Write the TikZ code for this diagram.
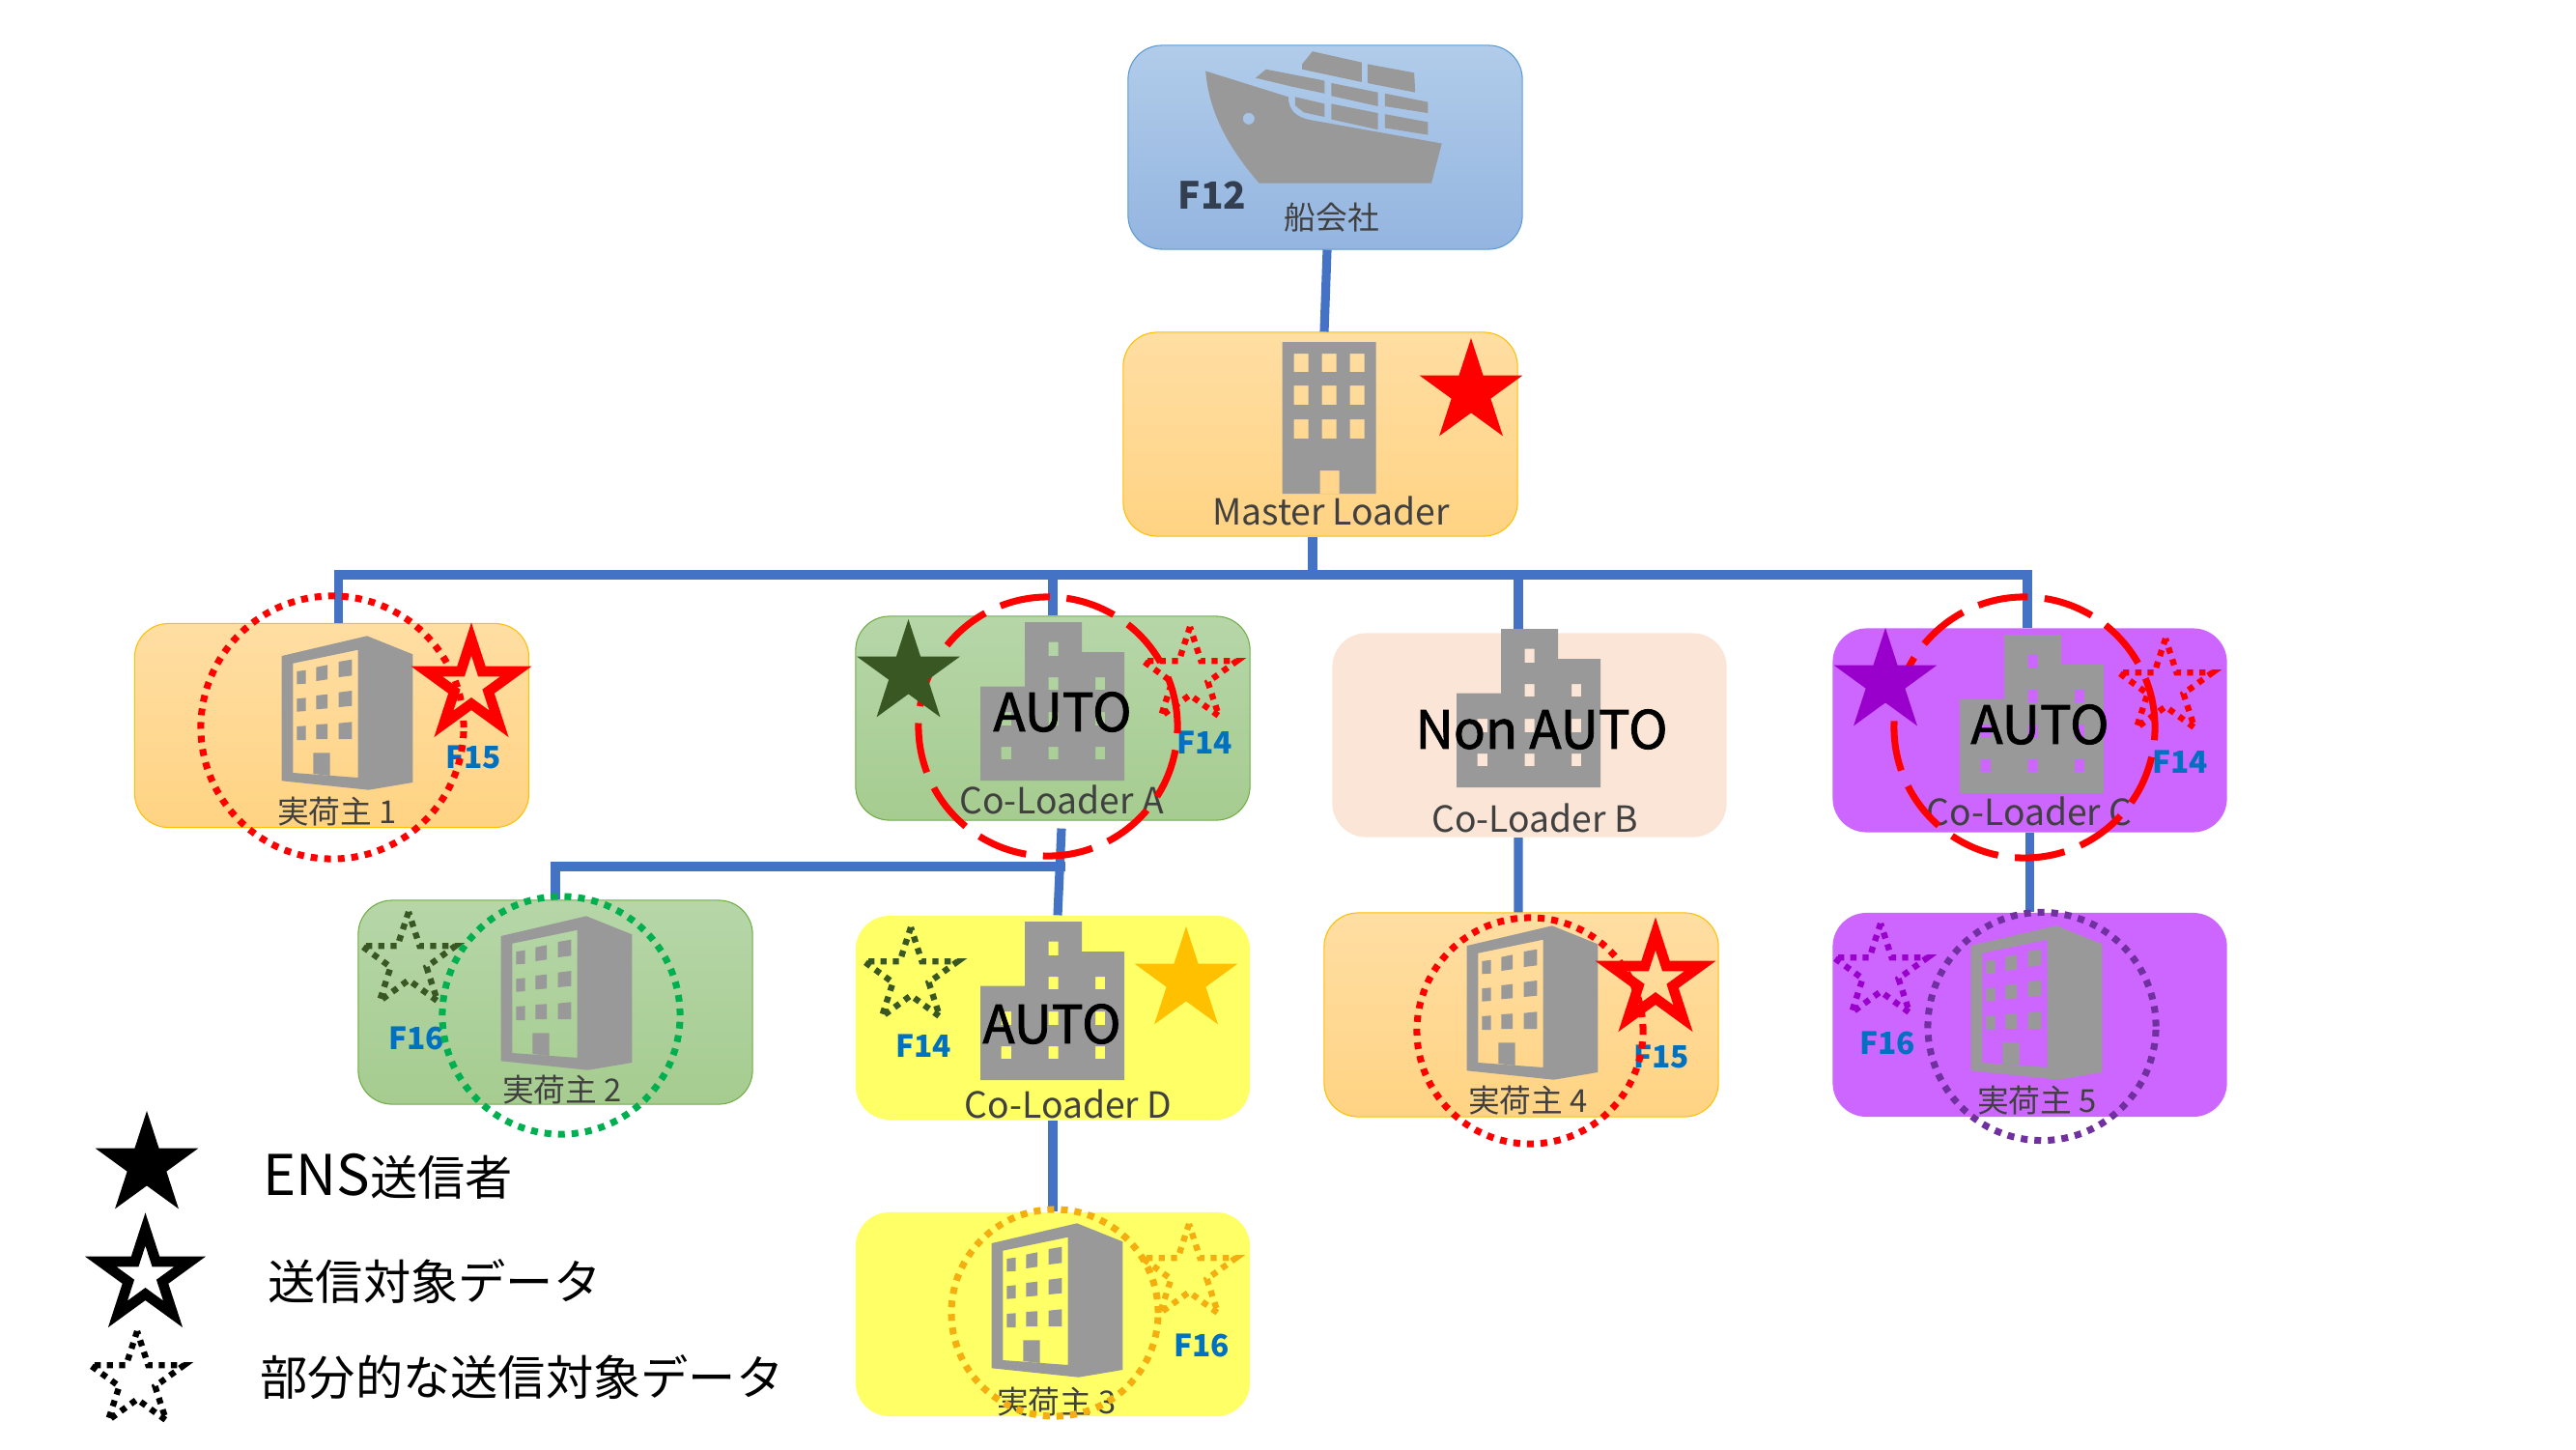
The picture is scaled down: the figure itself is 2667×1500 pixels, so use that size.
\documentclass[tikz,border=0pt]{standalone}
\usepackage{fontspec}
\setmainfont{Noto Sans CJK JP}
\usetikzlibrary{shapes.geometric}
\definecolor{linkblue}{HTML}{4472C4}
\definecolor{icongrey}{HTML}{999999}
\definecolor{fblue}{HTML}{0070C0}
\definecolor{darkgreen}{HTML}{385723}
\definecolor{violet}{HTML}{9900CC}
\definecolor{ringgreen}{HTML}{00B050}
\definecolor{ringorange}{HTML}{F4AE10}
\definecolor{ringpurple}{HTML}{7030A0}
\definecolor{amber}{HTML}{FFC000}
\definecolor{blueedge}{HTML}{5B9BD5}
\definecolor{bluetop}{HTML}{B1CCEA}
\definecolor{bluebot}{HTML}{94B5E0}
\definecolor{orangetop}{HTML}{FFDEA3}
\definecolor{orangebot}{HTML}{FFD383}
\definecolor{greenedge}{HTML}{70AD47}
\definecolor{greentop}{HTML}{B6D6A8}
\definecolor{greenbot}{HTML}{A6CC90}
\definecolor{paleyellow}{HTML}{FFFF66}
\definecolor{peach}{HTML}{FBE5D6}
\definecolor{lilac}{HTML}{CC66FF}
\definecolor{slate}{HTML}{333F50}
\tikzset{
  boxbase/.style={minimum width=4.08cm,minimum height=2.11cm,rounded corners=0.35cm,inner sep=0pt,line width=0.3pt},
  boxblue/.style={boxbase,draw=blueedge,top color=bluetop,bottom color=bluebot},
  boxorange/.style={boxbase,draw=amber,top color=orangetop,bottom color=orangebot},
  boxgreen/.style={boxbase,draw=greenedge,top color=greentop,bottom color=greenbot},
  boxyellow/.style={boxbase,fill=paleyellow},
  boxpeach/.style={boxbase,fill=peach},
  boxpurple/.style={boxbase,fill=lilac},
  link/.style={draw=linkblue,line width=2.6pt},
  name text/.style={text=black!75,font=\fontsize{9.3}{11}\selectfont,inner sep=0pt},
  loader text/.style={text=black!75,font=\fontsize{10.6}{12}\selectfont,inner sep=0pt},
  ftext/.style={text=fblue,font=\fontsize{9}{11}\selectfont\bfseries,inner sep=0pt},
  autotext/.style={text=black,font=\fontsize{15.5}{18}\selectfont\addfontfeature{FakeBold=1.5},inner sep=0pt},
  legendtext/.style={text=black,font=\fontsize{14}{17}\selectfont,inner sep=0pt,anchor=west},
  solidstar/.style={star,star points=5,star point ratio=2.618,inner sep=0pt,outer sep=0pt,minimum size=1.12cm,fill=#1},
  hollowstar/.style={star,star points=5,star point ratio=2.618,inner sep=0pt,outer sep=0pt,minimum size=0.97cm,draw=#1,line width=3pt},
  partstar/.style={star,star points=5,star point ratio=2.618,inner sep=0pt,outer sep=0pt,minimum size=1.02cm,draw=#1,line width=1.8pt,dash pattern=on 1.8pt off 1.8pt},
  dotring/.style={circle,inner sep=0pt,draw=#1,line width=2pt,dash pattern=on 2pt off 2pt},
  dashring/.style={circle,inner sep=0pt,draw=red,line width=2pt,dash pattern=on 14.8pt off 5pt},
  cargoship/.pic={
    \fill[icongrey,even odd rule] (415,150) -- (655,225) .. controls (655,265) and (680,285) .. (720,292) -- (1100,360) -- (1070,475) -- (570,475) .. controls (480,370) and (425,270) .. (415,150) -- cycle (540,288) circle (17);
    \fill[icongrey] (695,130) -- (725,93) -- (868,125) -- (868,182) -- (695,145) -- cycle;
    \fill[icongrey] (885,130) -- (1020,155) -- (1023,212) -- (885,185) -- cycle;
    \fill[icongrey] (560,170) -- (590,145) -- (760,178) -- (760,215) -- (665,195) -- cycle;
    \fill[icongrey] (780,185) -- (915,212) -- (915,252) -- (780,222) -- cycle;
    \fill[icongrey] (935,215) -- (1060,240) -- (1060,272) -- (935,252) -- cycle;
    \fill[icongrey] (675,225) -- (760,245) -- (760,283) -- (700,270) -- (675,250) -- cycle;
    \fill[icongrey] (780,245) -- (915,272) -- (915,320) -- (780,290) -- cycle;
    \fill[icongrey] (935,275) -- (1060,298) -- (1060,335) -- (935,315) -- cycle;
  },
  towerbld/.pic={
    \fill[icongrey,even odd rule] (0,0) rectangle (97,157)
      (12,12) rectangle (27,31) (41,12) rectangle (56,31) (70,12) rectangle (85,31)
      (12,45) rectangle (27,65) (41,45) rectangle (56,65) (70,45) rectangle (85,65)
      (12,80) rectangle (27,100) (41,80) rectangle (56,100) (70,80) rectangle (85,100)
      (39,133) rectangle (59,157);
  },
  flatbld/.pic={
    \fill[icongrey,even odd rule] (0.7,21) -- (89,0.3) -- (136.3,19.3) -- (136.3,152) -- (90.7,159.7) -- (0.7,150.3) -- cycle
      (12.3,28.7) -- (79.7,14.7) -- (79.7,147) -- (12.3,142) -- cycle;
    \fill[icongrey] (33.3,121.3) -- (50.7,121.3) -- (50.7,145) -- (33.3,143) -- cycle;
    \fill[icongrey] (16.3,37) -- (25.7,35.7) -- (25.7,49.7) -- (16.3,50.3) -- cycle;
    \fill[icongrey] (36.3,32.7) -- (48,30.3) -- (48,45.3) -- (36.3,47) -- cycle;
    \fill[icongrey] (59.7,27) -- (73.3,24.7) -- (73.3,41.3) -- (59.7,43) -- cycle;
    \fill[icongrey] (16.3,65.3) -- (25.7,64.3) -- (25.7,78) -- (16.3,78.7) -- cycle;
    \fill[icongrey] (36.3,62) -- (48,60.7) -- (48,75.3) -- (36.3,76.3) -- cycle;
    \fill[icongrey] (59.7,58.7) -- (73.3,57) -- (73.3,72.7) -- (59.7,74) -- cycle;
    \fill[icongrey] (16.3,94) -- (25.7,93.3) -- (25.7,108) -- (16.3,108) -- cycle;
    \fill[icongrey] (36.3,92) -- (48,91.3) -- (48,107) -- (36.3,107) -- cycle;
    \fill[icongrey] (59.7,90.7) -- (73.3,89.3) -- (73.3,107) -- (59.7,107) -- cycle;
  },
  blockbld/.pic={
    \fill[icongrey,even odd rule] (0,66.5) -- (46,66.5) -- (46,0) -- (105,0) -- (105,31) -- (149,31) -- (149,164) -- (0,164) -- cycle
      (70.6,20.6) rectangle (80.5,35)
      (70.6,57) rectangle (80.5,70) (119,57) rectangle (129,70)
      (21.6,93) rectangle (32,107) (70.6,93) rectangle (80.5,107) (119,93) rectangle (129,107)
      (21.6,129) rectangle (32,142) (70.6,129) rectangle (80.5,142) (119,129) rectangle (129,142);
  }
}
\begin{document}
\begin{tikzpicture}[x=0.01cm,y=-0.01cm]
  \fill[white] (0,0) rectangle (2667,1500);
  \useasboundingbox (0,0) rectangle (2667,1500);
  \node[boxblue]   (F0) at (1372,152.5) {};
  \node[boxorange] (M0) at (1367,449.5) {};
  \node[boxorange] (S1) at (343.5,751) {};
  \node[boxgreen]  (CA) at (1090,743.5) {};
  \node[boxpeach]  (CB) at (1583.5,761) {};
  \node[boxpurple] (CC) at (2101.5,756) {};
  \node[boxgreen]  (S2) at (575,1037.5) {};
  \node[boxyellow] (CD) at (1090,1053.5) {};
  \node[boxorange] (S4) at (1575,1050.5) {};
  \node[boxpurple] (S5) at (2101.5,1050.5) {};
  \node[boxyellow] (S3) at (1090,1360.5) {};
  \coordinate (bus) at (1359,595);
  \coordinate (branch) at (1103,897);
  \draw[link] ([xshift=0.02cm]F0.south) -- ([xshift=0.04cm]M0.north);
  \draw[link] (M0.south -| bus) -- (bus);
  \draw[link] ([xshift=0.07cm]S1.north) |- (bus);
  \draw[link] (CA.north) |- (bus);
  \draw[link] ([xshift=-0.115cm]CB.north) |- (bus);
  \draw[link] ([xshift=-0.025cm]CC.north) |- (bus);
  \draw[link] ([xshift=0.09cm,yshift=-0.08cm]CA.south) -- ([xshift=0.05cm]CD.north);
  \draw[link] (branch) -| (S2.north);
  \draw[link] ([yshift=0.1cm]S2.north) -- (S2.north);
  \draw[link] ([xshift=-0.115cm]CB.south) -- ([xshift=-0.03cm]S4.north);
  \draw[link] (CC.south) -- (S5.north);
  \draw[link] (CD.south) -- (S3.north);
  \pic[scale=0.357] (shipicon) at (1100,20) {cargoship};
  \pic (towericon) at (1327.5,354) {towerbld};
  \pic (flat1) at (291,658) {flatbld};
  \pic (flat2) at (518,948) {flatbld};
  \pic (flat3) at (1026,1266) {flatbld};
  \pic (flat4) at (1518,958) {flatbld};
  \pic (flat5) at (2040,958) {flatbld};
  \pic (blockA) at (1015,644) {blockbld};
  \pic (blockB) at (1508,651) {blockbld};
  \pic (blockC) at (2029,657) {blockbld};
  \pic (blockD) at (1015,954) {blockbld};
  \node[inner sep=0pt,text=slate,font=\fontsize{11}{13}\selectfont\bfseries] (tF12) at (1255,202) {F12};
  \node[name text] (tShip) at (1379,225) {船会社};
  \node[loader text] (tMaster) at (1378,529) {Master Loader};
  \node[name text] (tS1) at (349,840) {実荷主 1};
  \node[name text] (tS2) at (582,1128) {実荷主 2};
  \node[name text] (tS3) at (1094,1451) {実荷主 3};
  \node[name text] (tS4) at (1582,1139) {実荷主 4};
  \node[name text] (tS5) at (2109,1139) {実荷主 5};
  \node[loader text] (tCA) at (1099,828) {Co-Loader A};
  \node[loader text] (tCB) at (1589,847) {Co-Loader B};
  \node[loader text] (tCC) at (2101,840) {Co-Loader C};
  \node[loader text] (tCD) at (1106,1143) {Co-Loader D};
  \node[autotext] (aA) at (1100,737) {AUTO};
  \node[autotext] (aB) at (1596,755) {Non AUTO};
  \node[autotext] (aC) at (2112,750) {AUTO};
  \node[autotext] (aD) at (1089,1060) {AUTO};
  \node[hollowstar=red] (st1) at (488,710) {};
  \node[hollowstar=red] (st4) at (1714,1015) {};
  \node[partstar=red] (stA) at (1232,700) {};
  \node[partstar=red] (stC) at (2242,712) {};
  \node[partstar=darkgreen] (st2) at (423,995) {};
  \node[partstar=darkgreen] (stD) at (943,1011) {};
  \node[partstar=ringorange] (st3) at (1231,1318) {};
  \node[partstar=violet] (st5) at (1947,1007) {};
  \node[ftext] (f1) at (490,784) {F15};
  \node[ftext] (f2) at (431,1075) {F16};
  \node[ftext] (f3) at (1244,1393) {F16};
  \node[ftext] (f4) at (1720,1094) {F15};
  \node[ftext] (f5) at (1954,1080) {F16};
  \node[ftext] (fA) at (1247,769) {F14};
  \node[ftext] (fC) at (2257,789) {F14};
  \node[ftext] (fD) at (956,1083) {F14};
  \node[dotring=red,minimum size=2.72cm] (r1) at (344,753) {};
  \node[dotring=ringgreen,minimum size=2.46cm] (r2) at (581,1051) {};
  \node[dotring=ringorange,minimum size=2.14cm] (r3) at (1092,1359) {};
  \node[dotring=red,minimum size=2.34cm] (r4) at (1584,1067) {};
  \node[dotring=ringpurple,minimum size=2.36cm] (r5) at (2114,1062.5) {};
  \node[dashring,minimum size=2.68cm] (rA) at (1085,752) {};
  \node[dashring,minimum size=2.70cm] (rC) at (2096,753) {};
  \node[solidstar=red] (stM) at (1523,406) {};
  \node[solidstar=darkgreen] (stAs) at (940.5,697) {};
  \node[solidstar=violet] (stCs) at (1952,706) {};
  \node[solidstar=amber] (stDs) at (1228,1015) {};
  \node[solidstar=black] (lg1) at (152,1206) {};
  \node[hollowstar=black] (lg2) at (150.5,1321) {};
  \node[partstar=black] (lg3) at (142,1429) {};
  \node[legendtext] (lt1) at (272,1218) {{\fontsize{16.5}{17}\selectfont ENS}送信者};
  \node[legendtext] (lt2) at (277,1327) {送信対象データ};
  \node[legendtext] (lt3) at (269,1426) {部分的な送信対象データ};
\end{tikzpicture}
\end{document}
